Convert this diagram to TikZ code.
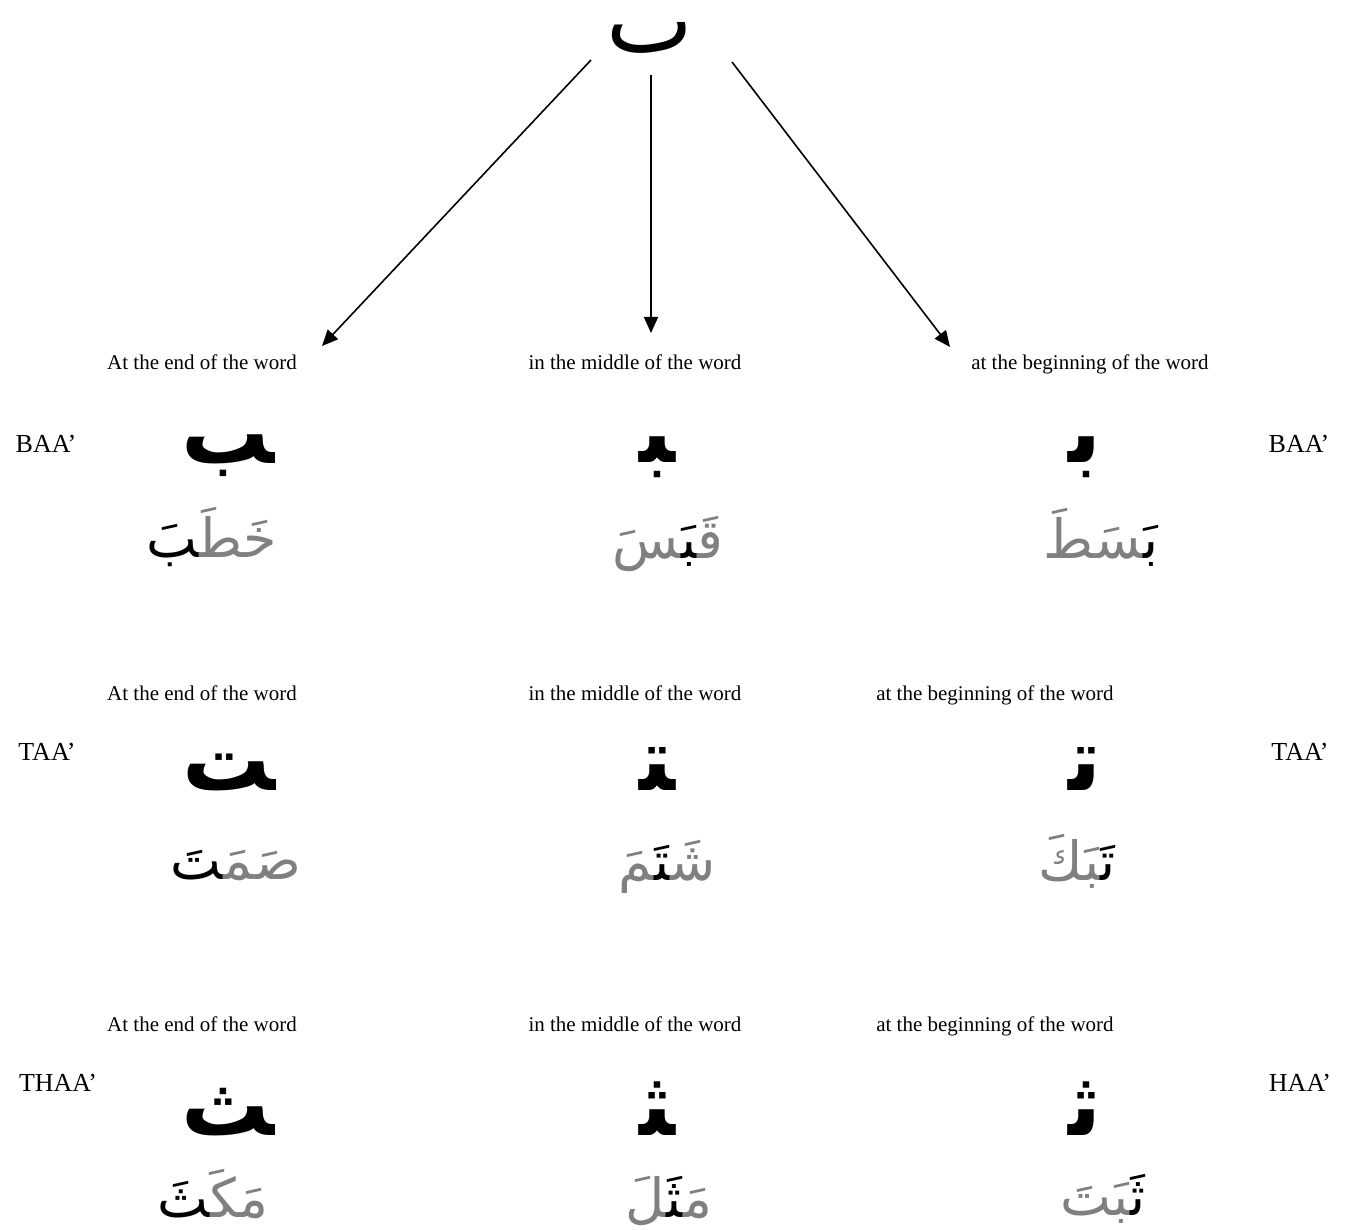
\documentclass[tikz,border=0pt]{standalone}
\usepackage{fontspec}
\setmainfont{Liberation Serif}
\newfontfamily\arabicfont[Script=Arabic]{DejaVu Sans}
\usetikzlibrary{arrows.meta}
\def\zj{^^^^200d}
\definecolor{wgray}{gray}{0.5}
\tikzset{
  lbl/.style={font=\fontsize{21}{25}\selectfont, anchor=base, inner sep=0pt},
  lname/.style={font=\fontsize{26}{30}\selectfont, anchor=base, inner sep=0pt},
  big/.style={font=\arabicfont\bfseries\fontsize{88}{98}\selectfont, anchor=base, inner sep=0pt},
  word/.style={font=\arabicfont\fontsize{54}{64}\selectfont, anchor=base, inner sep=0pt},
  top/.style={font=\arabicfont\fontsize{92}{100}\selectfont, anchor=base, inner sep=0pt},
  arr/.style={line width=1.6pt, -{Triangle[length=16pt,width=14pt]}}
}
\begin{document}
\begin{tikzpicture}[x=1pt,y=-1pt]
\useasboundingbox (0,0) rectangle (1351,1230);
% top letter and arrows
\node[top] (root) at (650,53) {ٮ};
\coordinate (s1) at (591,60);
\coordinate (s2) at (651,75);
\coordinate (s3) at (732,62);
\coordinate (e1) at (322,346);
\coordinate (e2) at (651,333);
\coordinate (e3) at (950,347);
\draw[arr] (s1) -- (e1);
\draw[arr] (s2) -- (e2);
\draw[arr] (s3) -- (e3);
% row labels
\node[lbl] (l11) at (202,369) {At the end of the word};
\node[lbl] (l12) at (635,369) {in the middle of the word};
\node[lbl] (l13) at (1090,369) {at the beginning of the word};
\node[lbl] (l21) at (202,700) {At the end of the word};
\node[lbl] (l22) at (635,700) {in the middle of the word};
\node[lbl] (l23) at (995,700) {at the beginning of the word};
\node[lbl] (l31) at (202,1031) {At the end of the word};
\node[lbl] (l32) at (635,1031) {in the middle of the word};
\node[lbl] (l33) at (995,1031) {at the beginning of the word};
% names
\node[lname] (n1l) at (46,452) {BAA’};
\node[lname] (n1r) at (1299,452) {BAA’};
\node[lname] (n2l) at (47,760) {TAA’};
\node[lname] (n2r) at (1300,760) {TAA’};
\node[lname] (n3l) at (58,1091) {THAA’};
\node[lname] (n3r) at (1300,1091) {HAA’};
% big letters
\node[big] (b11) at (228,463) {\zj ب};
\node[big] (b12) at (657,462) {\zj ب\zj};
\node[big] (b13) at (1085,462) {ب\zj};
\node[big] (b21) at (229,790) {\zj ت};
\node[big] (b22) at (657,790) {\zj ت\zj};
\node[big] (b23) at (1085,790) {ت\zj};
\node[big] (b31) at (228,1135) {\zj ث};
\node[big] (b32) at (657,1135) {\zj ث\zj};
\node[big] (b33) at (1085,1135) {ث\zj};
% words
\node[word] (w11) at (212,557) {\zj بَ{\color{wgray}خَطَ\zj}};
\node[word] (w12) at (668,558) {{\color{wgray}\zj سَ}\zj بَ\zj{\color{wgray}قَ\zj}};
\node[word] (w13) at (1101,558) {{\color{wgray}\zj سَطَ}بَ\zj};
\node[word] (w21) at (236,879) {\zj تَ{\color{wgray}صَمَ\zj}};
\node[word] (w22) at (667,880) {{\color{wgray}\zj مَ}\zj تَ\zj{\color{wgray}شَ\zj}};
\node[word] (w23) at (1077,880) {{\color{wgray}\zj بَكَ}تَ\zj};
\node[word] (w31) at (213,1217) {\zj ثَ{\color{wgray}مَكَ\zj}};
\node[word] (w32) at (669,1217) {{\color{wgray}\zj لَ}\zj ثَ\zj{\color{wgray}مَ\zj}};
\node[word] (w33) at (1103,1215) {{\color{wgray}\zj بَتَ}ثَ\zj};
\end{tikzpicture}
\end{document}
